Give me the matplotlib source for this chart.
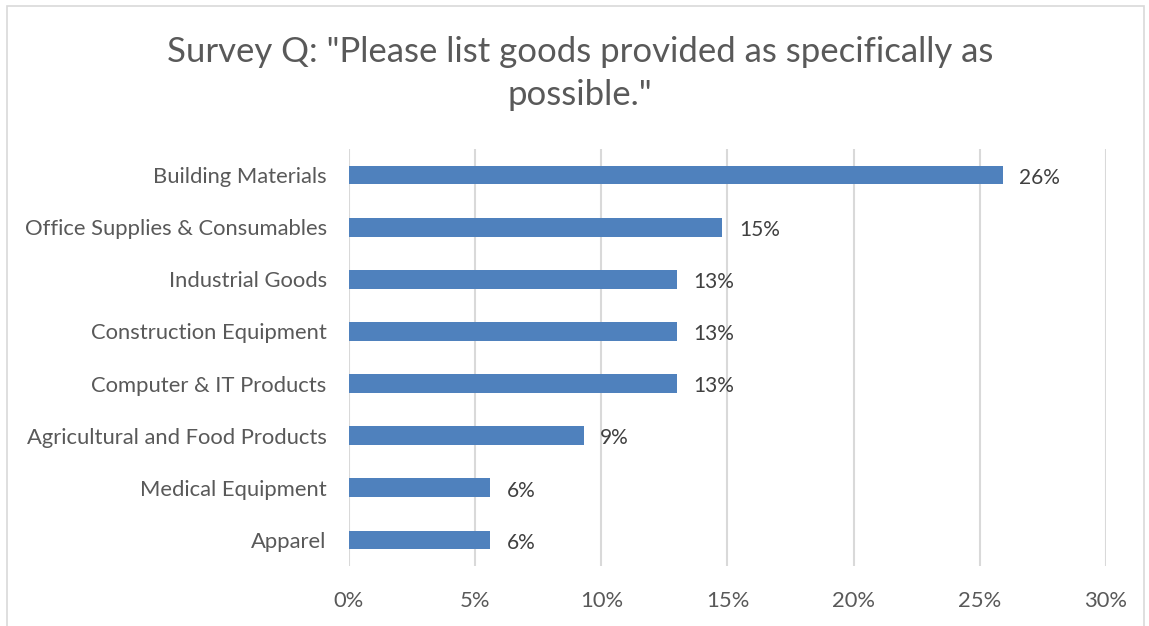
import matplotlib.pyplot as plt
from matplotlib.patches import Rectangle
from matplotlib.ticker import PercentFormatter

plt.rcParams['font.family'] = ['Lato', 'DejaVu Sans']

# Survey results, top category first
categories = ['Building Materials', 'Office Supplies & Consumables', 'Industrial Goods',
              'Construction Equipment', 'Computer & IT Products',
              'Agricultural and Food Products', 'Medical Equipment', 'Apparel']
shares = [0.259, 0.148, 0.13, 0.13, 0.13, 0.093, 0.056, 0.056]
xticks = [0, 0.05, 0.10, 0.15, 0.20, 0.25, 0.30]

fig = plt.figure(figsize=(11.49, 6.26), dpi=100)
ax = fig.add_axes([0.3037, 0.0958, 0.6589, 0.6662])

y = list(range(len(categories)))[::-1]
bars = ax.barh(y, shares, height=0.36, color='#4F81BD', zorder=3)

for bar, v in zip(bars, shares):
    ax.annotate(f'{v:.0%}', xy=(bar.get_width(), bar.get_y() + bar.get_height() / 2),
                xytext=(12, -2), textcoords='offset points', ha='left', va='center',
                fontsize=15, color='#404040')

ax.set_yticks(y)
ax.set_yticklabels(categories)
ax.set_xticks(xticks)
ax.set_xlim(0, 0.30)
ax.set_ylim(-0.5, len(categories) - 0.5)
ax.xaxis.set_major_formatter(PercentFormatter(1.0, decimals=0))
ax.tick_params(axis='both', length=0, labelsize=15.8, colors='#595959')
ax.tick_params(axis='x', pad=18)
ax.tick_params(axis='y', pad=16)
ax.grid(True, axis='x', color='#D9D9D9', linewidth=1.5, zorder=0)
for s in ax.spines.values():
    s.set_visible(False)

fig.text(0.505, 0.882, 'Survey Q: "Please list goods provided as specifically as\npossible."',
         ha='center', va='center', fontsize=25, color='#595959', linespacing=1.42)

# chart frame
fig.patches.append(Rectangle((0.006, -0.01), 0.99, 1.0, transform=fig.transFigure,
                             fill=False, edgecolor='#D9D9D9', linewidth=1.2))

fig.savefig('out.png', dpi=100)
